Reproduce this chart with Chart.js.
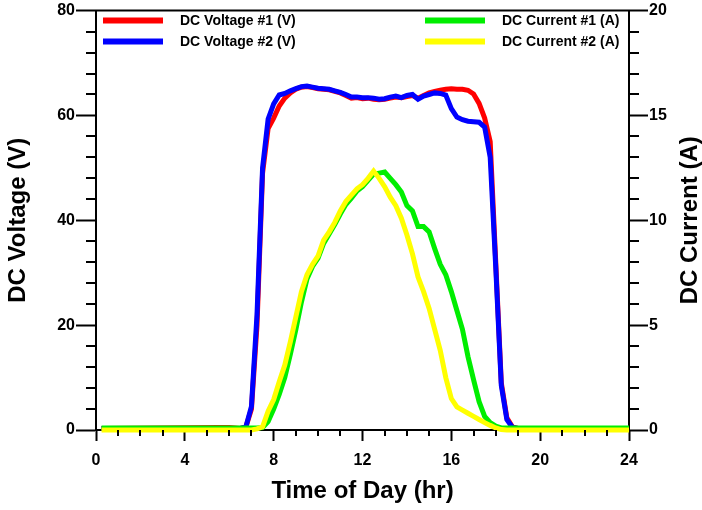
<!DOCTYPE html>
<html>
<head>
<meta charset="utf-8">
<title>DC Voltage and Current</title>
<script src="https://cdn.jsdelivr.net/npm/chart.js@4.4.1/dist/chart.umd.min.js"></script>
<style>
  html, body { margin: 0; padding: 0; background: #fff; }
  #wrap { width: 702px; height: 510px; }
</style>
</head>
<body>
<div id="wrap"><canvas id="chart" width="702" height="510"></canvas></div>
<script>
const hours = [0.25, 5.5, 6.0, 6.25, 6.5, 6.75, 7.0, 7.25, 7.5, 7.75, 8.0, 8.25, 8.5, 8.75,
  9.0, 9.25, 9.5, 9.75, 10.0, 10.25, 10.5, 10.75, 11.0, 11.25, 11.5, 11.75, 12.0, 12.25,
  12.5, 12.75, 13.0, 13.25, 13.5, 13.75, 14.0, 14.25, 14.5, 14.75, 15.0, 15.25, 15.5, 15.75,
  16.0, 16.25, 16.5, 16.75, 17.0, 17.25, 17.5, 17.75, 18.0, 18.25, 18.5, 18.75, 19.0, 24.0];

const voltage1 = [0.3, 0.5, 0.5, 0.4, 0.3, 0.6, 4.0, 20, 49, 57.5, 59.5, 61.8, 63.3, 64.3,
  65.0, 65.4, 65.5, 65.3, 65.1, 65.0, 64.9, 64.6, 64.3, 63.8, 63.3, 63.4, 63.2, 63.3,
  63.1, 63.0, 63.1, 63.3, 63.5, 63.4, 63.6, 63.8, 63.3, 63.8, 64.3, 64.6, 64.8, 65.0,
  65.1, 65.0, 65.0, 64.8, 64.1, 62.3, 59.5, 55, 32, 9.0, 2.3, 0.6, 0.3, 0.3];

const voltage2 = [0.3, 0.3, 0.3, 0.3, 0.3, 0.6, 4.5, 22, 50, 59.3, 62.2, 63.9, 64.2, 64.7,
  65.1, 65.5, 65.6, 65.4, 65.2, 65.1, 65.0, 64.7, 64.4, 64.0, 63.5, 63.5, 63.4, 63.4,
  63.3, 63.1, 63.2, 63.5, 63.7, 63.4, 63.8, 64.0, 63.1, 63.7, 64.0, 64.3, 64.2, 63.9,
  61.3, 59.7, 59.2, 58.9, 58.8, 58.7, 57.8, 52, 31, 8.5, 2.0, 0.5, 0.3, 0.3];

const current1 = [0.1, 0.1, 0.1, 0.1, 0.1, 0.1, 0.1, 0.1, 0.12, 0.4, 1.0, 1.7, 2.5, 3.6,
  4.8, 6.1, 7.2, 7.8, 8.2, 8.9, 9.35, 9.8, 10.3, 10.75, 11.05, 11.4, 11.6, 11.9,
  12.2, 12.25, 12.3, 12.0, 11.7, 11.35, 10.7, 10.45, 9.7, 9.7, 9.45, 8.65, 7.9, 7.4,
  6.6, 5.7, 4.8, 3.5, 2.4, 1.35, 0.65, 0.35, 0.18, 0.1, 0.1, 0.1, 0.1, 0.1];

const current2 = [0, 0, 0, 0, 0, 0, 0, 0.05, 0.15, 0.9, 1.45, 2.3, 3.1, 4.2,
  5.4, 6.6, 7.4, 7.9, 8.3, 9.05, 9.45, 9.9, 10.45, 10.9, 11.2, 11.5, 11.7, 12.0,
  12.35, 12.0, 11.6, 11.1, 10.7, 10.1, 9.3, 8.4, 7.3, 6.6, 5.8, 4.8, 3.8, 2.5,
  1.5, 1.1, 0.95, 0.8, 0.65, 0.5, 0.35, 0.22, 0.1, 0.02, 0, 0, 0, 0];

const seriesLabels = ["DC Voltage #1 (V)", "DC Voltage #2 (V)", "DC Current #1 (A)", "DC Current #2 (A)"];
const seriesColors = ["#ff0000", "#0000ff", "#00ee00", "#ffff00"];

const xTicks = { min: 0, max: 24, major: 4, minor: 1 };
const voltTicks = { min: 0, max: 80, major: 20, minor: 4 };
const ampTicks = { min: 0, max: 20, major: 5, minor: 1 };

const FONT = "'Liberation Sans', Arial, sans-serif";

function toPoints(values) {
  return hours.map((h, i) => ({ x: h, y: values[i] }));
}

function makeDataset(i, values, axis, order) {
  return {
    label: seriesLabels[i],
    data: toPoints(values),
    yAxisID: axis,
    borderColor: seriesColors[i],
    backgroundColor: seriesColors[i],
    borderWidth: 5,
    pointRadius: 0,
    tension: 0,
    fill: false,
    clip: false,
    order
  };
}

// minor ticks, top frame line, legend and right-hand title
const extrasPlugin = {
  id: "extras",
  afterDraw(chart) {
    const ctx = chart.ctx;
    const area = chart.chartArea;
    const { x, y, y2 } = chart.scales;

    ctx.save();
    ctx.strokeStyle = "#000";
    ctx.lineWidth = 2;

    ctx.beginPath();
    ctx.moveTo(area.left - 1, area.top);
    ctx.lineTo(area.right + 1, area.top);
    ctx.stroke();

    ctx.beginPath();
    for (let v = xTicks.min; v <= xTicks.max; v += xTicks.minor) {
      if (v % xTicks.major === 0) continue;
      const px = Math.round(x.getPixelForValue(v));
      ctx.moveTo(px, area.bottom);
      ctx.lineTo(px, area.bottom + 6);
    }
    for (let v = voltTicks.min; v <= voltTicks.max; v += voltTicks.minor) {
      if (v % voltTicks.major === 0) continue;
      const py = Math.round(y.getPixelForValue(v));
      ctx.moveTo(area.left, py);
      ctx.lineTo(area.left - 10, py);
    }
    for (let v = ampTicks.min; v <= ampTicks.max; v += ampTicks.minor) {
      if (v % ampTicks.major === 0) continue;
      const py = Math.round(y2.getPixelForValue(v));
      ctx.moveTo(area.right, py);
      ctx.lineTo(area.right + 10, py);
    }
    ctx.stroke();

    // legend, two columns inside the plot
    const cols = [area.left + 7, area.left + 329];
    const rows = [area.top + 10, area.top + 31];
    ctx.font = "bold 14px " + FONT;
    ctx.textBaseline = "middle";
    ctx.textAlign = "left";
    seriesLabels.forEach((label, i) => {
      const cx = cols[Math.floor(i / 2)];
      const cy = rows[i % 2];
      ctx.strokeStyle = seriesColors[i];
      ctx.lineWidth = 6;
      ctx.beginPath();
      ctx.moveTo(cx, cy);
      ctx.lineTo(cx + 60, cy);
      ctx.stroke();
      ctx.fillStyle = "#000";
      ctx.fillText(label, cx + 77, cy + 1);
    });

    // right axis title reads bottom to top
    ctx.translate(690, (area.top + area.bottom) / 2);
    ctx.rotate(-Math.PI / 2);
    ctx.textAlign = "center";
    ctx.font = "bold 24px " + FONT;
    ctx.fillText("DC Current (A)", 0, 0);
    ctx.restore();
  }
};

const tickFont = { family: FONT, size: 16, weight: "bold" };
const titleFont = { family: FONT, size: 24, weight: "bold" };

new Chart(document.getElementById("chart"), {
  type: "line",
  data: {
    datasets: [
      makeDataset(0, voltage1, "y", 4),
      makeDataset(1, voltage2, "y", 3),
      makeDataset(2, current1, "y2", 2),
      makeDataset(3, current2, "y2", 1)
    ]
  },
  options: {
    responsive: false,
    animation: false,
    devicePixelRatio: 1,
    layout: { padding: { top: 9, left: 0, right: 0, bottom: 0 } },
    plugins: {
      legend: { display: false },
      tooltip: { enabled: false }
    },
    scales: {
      x: {
        type: "linear",
        min: xTicks.min,
        max: xTicks.max,
        ticks: { stepSize: xTicks.major, color: "#000", font: tickFont, padding: 10, maxRotation: 0 },
        grid: { drawOnChartArea: false, tickLength: 11, tickWidth: 2, tickColor: "#000" },
        border: { color: "#000", width: 2 },
        title: { display: true, text: "Time of Day (hr)", color: "#000", font: titleFont, padding: { top: 0, bottom: 4 } },
        afterFit(scale) { scale.height = 80; }
      },
      y: {
        position: "left",
        min: voltTicks.min,
        max: voltTicks.max,
        ticks: { stepSize: voltTicks.major, color: "#000", font: tickFont, padding: 1 },
        grid: { drawOnChartArea: false, tickLength: 20, tickWidth: 2, tickColor: "#000" },
        border: { color: "#000", width: 2 },
        title: { display: true, text: "DC Voltage (V)", color: "#000", font: titleFont, padding: { top: 4, bottom: 0 } },
        afterFit(scale) { scale.width = 96; }
      },
      y2: {
        position: "right",
        min: ampTicks.min,
        max: ampTicks.max,
        ticks: { stepSize: ampTicks.major, color: "#000", font: tickFont, padding: 1 },
        grid: { drawOnChartArea: false, tickLength: 19, tickWidth: 2, tickColor: "#000" },
        border: { color: "#000", width: 2 },
        afterFit(scale) { scale.width = 73; }
      }
    }
  },
  plugins: [extrasPlugin]
});
</script>
</body>
</html>
